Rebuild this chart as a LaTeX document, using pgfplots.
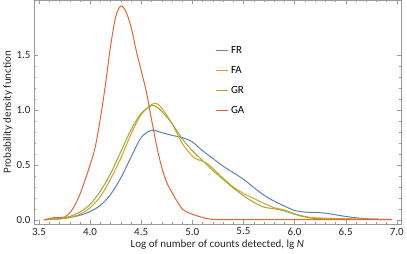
\documentclass[border=0pt]{standalone}
\usepackage{fontspec}
\setmainfont{Carlito}
\usepackage{pgfplots}
\pgfplotsset{compat=1.18}
\definecolor{mFR}{HTML}{5E81B5}
\definecolor{mFA}{HTML}{E19C24}
\definecolor{mGR}{HTML}{8FB032}
\definecolor{mGA}{HTML}{EB6235}
\definecolor{framec}{gray}{0.6}
\begin{document}
\begin{tikzpicture}
\begin{axis}[
  scale only axis, width=368pt, height=225pt,
  xmin=3.451, xmax=7.039, ymin=-0.043, ymax=2.003,
  axis line style={framec},
  tick style={framec},
  major tick length=4pt, minor tick length=2.2pt,
  xtick={3.5,4.0,...,7.0}, ytick={0,0.5,1.0,1.5},
  minor x tick num=4, minor y tick num=4,
  xticklabels={3.5,4.0,4.5,5.0,5.5,6.0,6.5,7.0},
  yticklabels={0.0,0.5,1.0,1.5},
  tick label style={font=\fontsize{11}{13}\selectfont, text=black!85},
  label style={font=\fontsize{11}{13}\selectfont, text=black!85},
  xlabel={Log of number of counts detected, lg \textit{N}},
  ylabel={Probability density function},
  xlabel style={yshift=2pt},
  ylabel style={yshift=-3pt},
  legend style={draw=none, fill=none, at={(axis cs:5.19,1.62)}, anchor=north west,
    font=\fontsize{11}{13}\selectfont, row sep=7.6pt},
  legend cell align=left,
  legend image code/.code={\draw[#1, line width=1.2pt] (0pt,0.5pt) -- (13pt,0.5pt);},
]
\addplot[color=mFR, line width=1pt, smooth] coordinates {
(3.55,0) (3.6,0.003) (3.7,0.008) (3.8,0.02) (3.9,0.04) (4.0,0.075) (4.1,0.13) (4.2,0.23)
(4.3,0.38) (4.4,0.57) (4.5,0.75) (4.6,0.815) (4.7,0.795) (4.8,0.77) (4.9,0.75) (5.0,0.71)
(5.1,0.63) (5.2,0.56) (5.3,0.49) (5.4,0.43) (5.5,0.37) (5.6,0.295) (5.7,0.225) (5.8,0.17)
(5.9,0.125) (6.0,0.085) (6.1,0.07) (6.2,0.067) (6.3,0.06) (6.4,0.045) (6.5,0.03)
(6.6,0.018) (6.7,0.01) (6.8,0.005) (6.95,0.002)};
\addlegendentry{FR}
\addplot[color=mFA, line width=1pt, smooth] coordinates {
(3.55,0) (3.7,0.008) (3.8,0.02) (3.9,0.05) (4.0,0.11) (4.1,0.21) (4.2,0.37) (4.3,0.56)
(4.4,0.78) (4.5,0.96) (4.6,1.05) (4.65,1.06) (4.7,1.02) (4.8,0.88) (4.9,0.7) (5.0,0.58)
(5.05,0.55) (5.1,0.535) (5.15,0.51) (5.2,0.47) (5.3,0.38) (5.4,0.3) (5.5,0.24) (5.6,0.195)
(5.7,0.15) (5.8,0.11) (5.9,0.09) (6.0,0.055) (6.1,0.03) (6.2,0.018) (6.4,0.012) (6.6,0.008) (6.95,0.002)};
\addlegendentry{FA}
\addplot[color=mGR, line width=1pt, smooth] coordinates {
(3.55,0) (3.7,0.01) (3.8,0.03) (3.9,0.07) (4.0,0.14) (4.1,0.26) (4.2,0.42) (4.3,0.62)
(4.4,0.82) (4.5,0.97) (4.6,1.04) (4.65,1.03) (4.7,0.99) (4.8,0.88) (4.9,0.74) (5.0,0.63)
(5.1,0.54) (5.2,0.45) (5.3,0.37) (5.4,0.29) (5.5,0.22) (5.6,0.16) (5.7,0.115) (5.8,0.1)
(5.9,0.08) (6.0,0.05) (6.1,0.025) (6.2,0.012) (6.4,0.006) (6.6,0.004) (6.95,0.001)};
\addlegendentry{GR}
\addplot[color=mGA, line width=1pt, smooth] coordinates {
(3.55,0) (3.6,0.01) (3.65,0.02) (3.7,0.02) (3.75,0.025) (3.8,0.06) (3.85,0.13) (3.9,0.23)
(3.95,0.36) (4.0,0.5) (4.05,0.66) (4.1,0.92) (4.15,1.23) (4.2,1.58) (4.25,1.85) (4.3,1.95)
(4.35,1.9) (4.4,1.76) (4.45,1.55) (4.5,1.36) (4.55,1.17) (4.6,0.92) (4.65,0.68) (4.7,0.48)
(4.75,0.34) (4.8,0.25) (4.85,0.17) (4.9,0.1) (4.95,0.07) (5.0,0.05) (5.05,0.035) (5.1,0.02)
(5.15,0.01) (5.2,0.003) (5.3,0) (5.5,0) (6.0,0) (6.5,0) (6.95,0)};
\addlegendentry{GA}
\end{axis}
\end{tikzpicture}
\end{document}
